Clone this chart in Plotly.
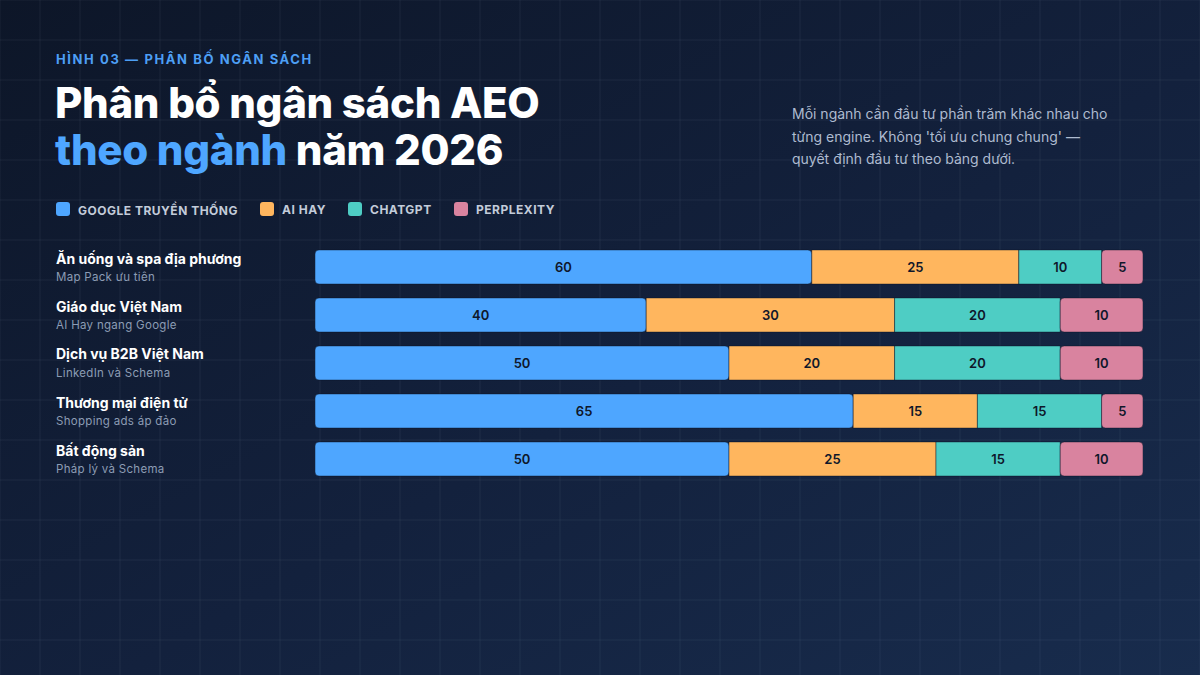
import base64
import plotly.graph_objects as go

# ---- data ----
industries = ["Ăn uống và spa địa phương", "Giáo dục Việt Nam", "Dịch vụ B2B Việt Nam",
              "Thương mại điện tử", "Bất động sản"]
notes = ["Map Pack ưu tiên", "AI Hay ngang Google", "LinkedIn và Schema",
         "Shopping ads áp đảo", "Pháp lý và Schema"]
google = [60, 40, 50, 65, 50]
aihay = [25, 30, 20, 15, 25]
chatgpt = [10, 20, 20, 15, 15]
perplexity = [5, 10, 10, 5, 10]
series_names = ["GOOGLE TRUYỀN THỐNG", "AI HAY", "CHATGPT", "PERPLEXITY"]
colors = ["#4ea6ff", "#ffb65e", "#4ecdc4", "#d9839f"]

W, H = 1200, 675
ML, MR, MT, MB = 315, 57, 243, 192
PW, PH = W - ML - MR, H - MT - MB
FONT = "Inter, Roboto, 'Noto Sans', sans-serif"

def px_x(p):
    return (p - ML) / PW

def px_y(p):
    return 1 - (p - MT) / PH

def rounded_rect(x0, y0, x1, y1, r):
    # pixel coords -> paper path with rounded corners
    pts = [
        f"M {px_x(x0 + r)} {px_y(y0)}",
        f"L {px_x(x1 - r)} {px_y(y0)}",
        f"Q {px_x(x1)} {px_y(y0)} {px_x(x1)} {px_y(y0 + r)}",
        f"L {px_x(x1)} {px_y(y1 - r)}",
        f"Q {px_x(x1)} {px_y(y1)} {px_x(x1 - r)} {px_y(y1)}",
        f"L {px_x(x0 + r)} {px_y(y1)}",
        f"Q {px_x(x0)} {px_y(y1)} {px_x(x0)} {px_y(y1 - r)}",
        f"L {px_x(x0)} {px_y(y0 + r)}",
        f"Q {px_x(x0)} {px_y(y0)} {px_x(x0 + r)} {px_y(y0)} Z",
    ]
    return " ".join(pts)

# ---- background (gradient + 40px grid) as svg image ----
grid = "".join(f'<line x1="{x}" y1="0" x2="{x}" y2="{H}"/>' for x in range(0, W + 1, 40))
grid += "".join(f'<line x1="0" y1="{y}" x2="{W}" y2="{y}"/>' for y in range(0, H + 1, 40))
svg = f'''<svg xmlns="http://www.w3.org/2000/svg" width="{W}" height="{H}" viewBox="0 0 {W} {H}">
<defs><linearGradient id="g" x1="0" y1="0" x2="1" y2="1">
<stop offset="0" stop-color="#0d1628"/><stop offset="0.55" stop-color="#13213d"/><stop offset="1" stop-color="#182c4d"/>
</linearGradient></defs>
<rect width="{W}" height="{H}" fill="url(#g)"/>
<g stroke="rgba(148,163,184,0.10)" stroke-width="1">{grid}</g>
</svg>'''
bg_src = "data:image/svg+xml;base64," + base64.b64encode(svg.encode()).decode()

fig = go.Figure()

base_ai = google[:]
base_gpt = [g + a for g, a in zip(google, aihay)]
base_px = [g + a + c for g, a, c in zip(google, aihay, chatgpt)]

line = dict(color="rgba(12,20,38,0.45)", width=1)
tfont = dict(family=FONT, size=13, color="#0f172a", weight=600)

# Google: drawn from its right edge leftwards so the rounded end is at 0
fig.add_trace(go.Bar(y=industries, x=[-v for v in google], base=google, orientation="h",
                     marker=dict(color=colors[0], cornerradius=4, line=line),
                     text=google, texttemplate="%{text}", textposition="inside",
                     insidetextanchor="middle", textfont=tfont, name=series_names[0],
                     width=0.71, showlegend=False))
for vals, base, col, nm in [(aihay, base_ai, colors[1], series_names[1]),
                            (chatgpt, base_gpt, colors[2], series_names[2])]:
    fig.add_trace(go.Bar(y=industries, x=vals, base=base, orientation="h",
                         marker=dict(color=col, cornerradius=0, line=line),
                         text=vals, texttemplate="%{text}", textposition="inside",
                         insidetextanchor="middle", textfont=tfont, name=nm,
                         width=0.71, showlegend=False))
fig.add_trace(go.Bar(y=industries, x=perplexity, base=base_px, orientation="h",
                     marker=dict(color=colors[3], cornerradius=4, line=line),
                     text=perplexity, texttemplate="%{text}", textposition="inside",
                     insidetextanchor="middle", textfont=tfont, name=series_names[3],
                     width=0.71, showlegend=False))

ann = []
shapes = []
LX = 54  # annotation left anchor (compensates the annotation padding)

# kicker
ann.append(dict(text='<span style="letter-spacing:1.6px">HÌNH 03 — PHÂN BỐ NGÂN SÁCH</span>',
                x=px_x(LX), y=px_y(58), xref="paper", yref="paper", xanchor="left", yanchor="middle",
                showarrow=False, font=dict(family=FONT, size=13, color="#4d9ff5", weight=700)))
# title
ann.append(dict(text='<span style="letter-spacing:-0.3px">Phân bổ ngân sách AEO</span>',
                x=px_x(LX - 1), y=px_y(102), xref="paper", yref="paper",
                xanchor="left", yanchor="middle", showarrow=False,
                font=dict(family=FONT, size=42, color="#ffffff", weight=800)))
ann.append(dict(text='<span style="letter-spacing:-0.3px"><span style="color:#4ea6ff">theo ngành</span> năm 2026</span>',
                x=px_x(LX - 1), y=px_y(149),
                xref="paper", yref="paper", xanchor="left", yanchor="middle", showarrow=False,
                font=dict(family=FONT, size=42, color="#ffffff", weight=800)))
# description
desc = ["Mỗi ngành cần đầu tư phần trăm khác nhau cho",
        "từng engine. Không 'tối ưu chung chung' —",
        "quyết định đầu tư theo bảng dưới."]
for i, ln in enumerate(desc):
    ann.append(dict(text=ln, x=px_x(790), y=px_y(114 + 22 * i), xref="paper", yref="paper",
                    xanchor="left", yanchor="middle", showarrow=False,
                    font=dict(family=FONT, size=14, color="#aebbd0")))

# custom legend
leg_x = [56, 260, 348, 454]
for lx, nm, col in zip(leg_x, series_names, colors):
    shapes.append(dict(type="path", xref="paper", yref="paper",
                       path=rounded_rect(lx, 202, lx + 14, 216, 3),
                       fillcolor=col, line=dict(width=0), layer="above"))
    ann.append(dict(text=f'<span style="letter-spacing:0.5px">{nm}</span>', x=px_x(lx + 20), y=px_y(209.5),
                    xref="paper", yref="paper", xanchor="left", yanchor="middle", showarrow=False,
                    font=dict(family=FONT, size=12, color="#c3ccda", weight=700)))

# row labels
for ind, nt in zip(industries, notes):
    ann.append(dict(text=ind, x=px_x(LX), y=ind, xref="paper", yref="y", xanchor="left",
                    yanchor="middle", yshift=9, showarrow=False,
                    font=dict(family=FONT, size=14, color="#ffffff", weight=700)))
    ann.append(dict(text=f'<span style="letter-spacing:0.3px">{nt}</span>', x=px_x(LX), y=ind,
                    xref="paper", yref="y", xanchor="left",
                    yanchor="middle", yshift=-10, showarrow=False,
                    font=dict(family=FONT, size=11.5, color="#8c9cb4")))

fig.update_layout(
    width=W, height=H,
    margin=dict(l=ML, r=MR, t=MT, b=MB, pad=0),
    paper_bgcolor="#111c33", plot_bgcolor="rgba(0,0,0,0)",
    barmode="overlay",
    xaxis=dict(range=[0, 100], visible=False, fixedrange=True),
    yaxis=dict(type="category", categoryorder="array", categoryarray=industries,
               autorange="reversed", visible=False, fixedrange=True),
    annotations=ann, shapes=shapes,
    images=[dict(source=bg_src, xref="paper", yref="paper", x=px_x(0), y=px_y(0),
                 sizex=W / PW, sizey=H / PH, sizing="stretch", xanchor="left", yanchor="top",
                 layer="below")],
    showlegend=False,
    font=dict(family=FONT),
)

fig.write_html("out.html", config={"displayModeBar": False})
